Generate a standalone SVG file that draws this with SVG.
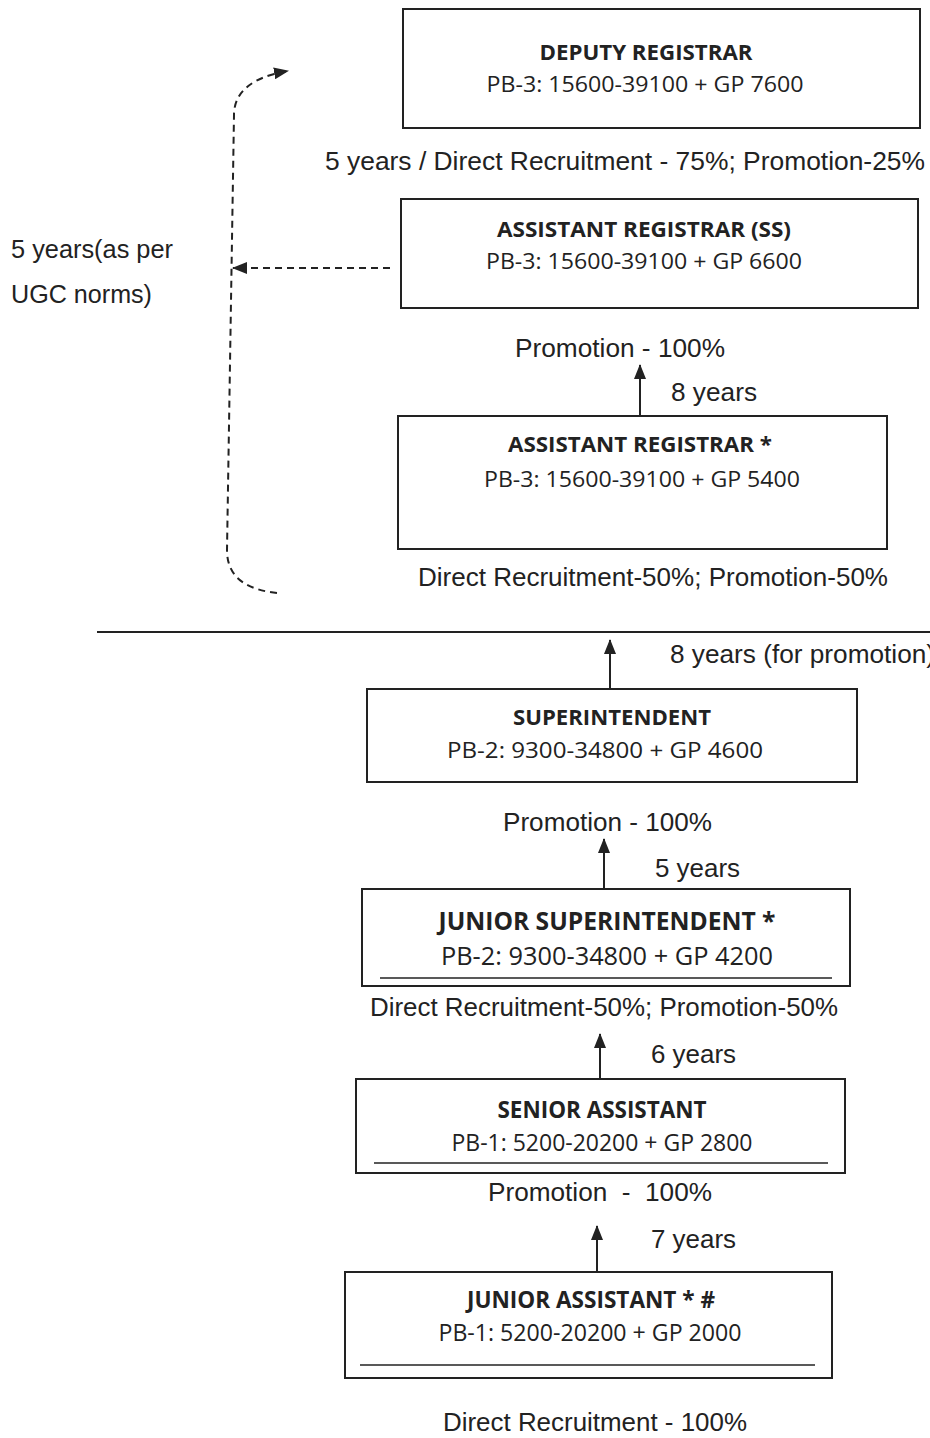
<svg xmlns="http://www.w3.org/2000/svg" width="930" height="1438" viewBox="0 0 930 1438">
<style>
.box{fill:#fff;stroke:#222;stroke-width:2}
.ul{stroke:#222;stroke-width:1.6}
.t{font-family:"Open Sans","Noto Sans",sans-serif;font-weight:bold;fill:#222;text-anchor:middle}
.p{font-family:"Open Sans","Noto Sans",sans-serif;fill:#222;text-anchor:middle}
.l{font-family:"Liberation Sans",Arial,sans-serif;font-size:25px;fill:#222}
.ar{stroke:#222;stroke-width:2;fill:none}
.da{stroke:#222;stroke-width:2;fill:none;stroke-dasharray:7 5}
</style>
<defs>
<marker id="ah" markerUnits="userSpaceOnUse" markerWidth="15" markerHeight="12" refX="14" refY="6" orient="auto">
<path d="M0,0 L15,6 L0,12 z" fill="#222"/>
</marker>
</defs>
<rect width="930" height="1438" fill="#fff"/>

<g id="connectors">
<line class="ar" x1="640" y1="415" x2="640" y2="365" marker-end="url(#ah)"/>
<line class="ar" x1="610" y1="688" x2="610" y2="640" marker-end="url(#ah)"/>
<line class="ar" x1="604" y1="888" x2="604" y2="839" marker-end="url(#ah)"/>
<line class="ar" x1="600" y1="1079" x2="600" y2="1034" marker-end="url(#ah)"/>
<line class="ar" x1="597" y1="1271" x2="597" y2="1226" marker-end="url(#ah)"/>
<path class="da" d="M390,268 L233,268" marker-end="url(#ah)"/>
<path class="da" d="M277,593 C250,590 227,580 227,550 L234,115 C234,92 252,77 288,71" marker-end="url(#ah)"/>
<line x1="97" y1="632" x2="930" y2="632" stroke="#222" stroke-width="2"/>
</g>

<g id="deputy-registrar">
<rect class="box" x="403" y="9" width="517" height="119"/>
<text class="t" x="646" y="60" font-size="22" textLength="213" lengthAdjust="spacingAndGlyphs">DEPUTY REGISTRAR</text>
<text class="p" x="645" y="92" font-size="22" textLength="317" lengthAdjust="spacingAndGlyphs">PB-3: 15600-39100 + GP 7600</text>
</g>

<g id="assistant-registrar-ss">
<rect class="box" x="401" y="199" width="517" height="109"/>
<text class="t" x="644" y="237" font-size="22" textLength="294" lengthAdjust="spacingAndGlyphs">ASSISTANT REGISTRAR (SS)</text>
<text class="p" x="644" y="269" font-size="22" textLength="316" lengthAdjust="spacingAndGlyphs">PB-3: 15600-39100 + GP 6600</text>
</g>

<g id="assistant-registrar">
<rect class="box" x="398" y="416" width="489" height="133"/>
<text class="t" x="640" y="452" font-size="22" textLength="264" lengthAdjust="spacingAndGlyphs">ASSISTANT REGISTRAR *</text>
<text class="p" x="642" y="487" font-size="22" textLength="316" lengthAdjust="spacingAndGlyphs">PB-3: 15600-39100 + GP 5400</text>
</g>

<g id="superintendent">
<rect class="box" x="367" y="689" width="490" height="93"/>
<text class="t" x="612" y="725" font-size="22" textLength="198" lengthAdjust="spacingAndGlyphs">SUPERINTENDENT</text>
<text class="p" x="605" y="758" font-size="22" textLength="316" lengthAdjust="spacingAndGlyphs">PB-2: 9300-34800 + GP 4600</text>
</g>

<g id="junior-superintendent">
<rect class="box" x="362" y="889" width="488" height="97"/>
<text class="t" x="607" y="930" font-size="25" textLength="337" lengthAdjust="spacingAndGlyphs">JUNIOR SUPERINTENDENT *</text>
<text class="p" x="607" y="965" font-size="25" textLength="332" lengthAdjust="spacingAndGlyphs">PB-2: 9300-34800 + GP 4200</text>
<line class="ul" x1="380" y1="978" x2="832" y2="978"/>
</g>

<g id="senior-assistant">
<rect class="box" x="356" y="1079" width="489" height="94"/>
<text class="t" x="602" y="1118" font-size="23" textLength="209" lengthAdjust="spacingAndGlyphs">SENIOR ASSISTANT</text>
<text class="p" x="602" y="1151" font-size="23" textLength="301" lengthAdjust="spacingAndGlyphs">PB-1: 5200-20200 + GP 2800</text>
<line class="ul" x1="374" y1="1163" x2="828" y2="1163"/>
</g>

<g id="junior-assistant">
<rect class="box" x="345" y="1272" width="487" height="106"/>
<text class="t" x="591" y="1308" font-size="23" textLength="248" lengthAdjust="spacingAndGlyphs">JUNIOR ASSISTANT * #</text>
<text class="p" x="590" y="1341" font-size="23" textLength="303" lengthAdjust="spacingAndGlyphs">PB-1: 5200-20200 + GP 2000</text>
<line class="ul" x1="360" y1="1365" x2="815" y2="1365"/>
</g>

<g id="labels">
<text class="l" x="325" y="170" textLength="600" lengthAdjust="spacingAndGlyphs">5 years / Direct Recruitment - 75%; Promotion-25%</text>
<text class="l" x="11" y="258" textLength="162" lengthAdjust="spacingAndGlyphs">5 years(as per</text>
<text class="l" x="11" y="303" textLength="141" lengthAdjust="spacingAndGlyphs">UGC norms)</text>
<text class="l" x="515" y="357" textLength="210" lengthAdjust="spacingAndGlyphs">Promotion - 100%</text>
<text class="l" x="671" y="401" textLength="86" lengthAdjust="spacingAndGlyphs">8 years</text>
<text class="l" x="418" y="586" textLength="470" lengthAdjust="spacingAndGlyphs">Direct Recruitment-50%; Promotion-50%</text>
<text class="l" x="670" y="663" textLength="265" lengthAdjust="spacingAndGlyphs">8 years (for promotion)</text>
<text class="l" x="503" y="831" textLength="209" lengthAdjust="spacingAndGlyphs">Promotion - 100%</text>
<text class="l" x="655" y="877" textLength="85" lengthAdjust="spacingAndGlyphs">5 years</text>
<text class="l" x="370" y="1016" textLength="468" lengthAdjust="spacingAndGlyphs">Direct Recruitment-50%; Promotion-50%</text>
<text class="l" x="651" y="1063" textLength="85" lengthAdjust="spacingAndGlyphs">6 years</text>
<text class="l" x="488" y="1201" textLength="224" lengthAdjust="spacingAndGlyphs" xml:space="preserve">Promotion  -  100%</text>
<text class="l" x="651" y="1248" textLength="85" lengthAdjust="spacingAndGlyphs">7 years</text>
<text class="l" x="443" y="1431" textLength="304" lengthAdjust="spacingAndGlyphs">Direct Recruitment - 100%</text>
</g>
</svg>
